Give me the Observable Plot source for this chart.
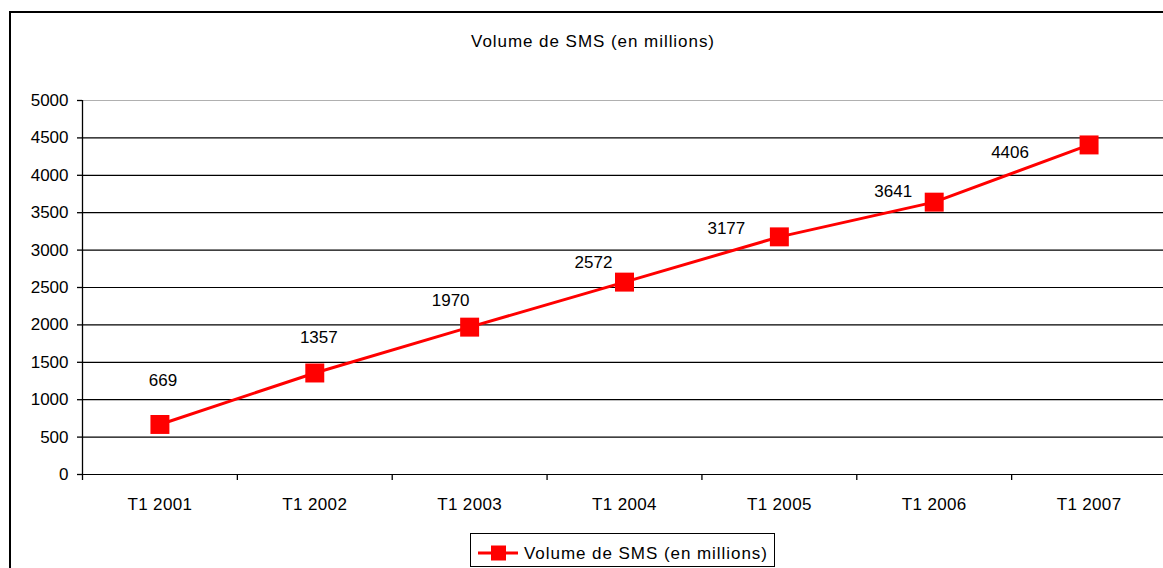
<!DOCTYPE html>
<html>
<head>
<meta charset="utf-8">
<script src="https://cdn.jsdelivr.net/npm/d3@7"></script>
<script src="https://cdn.jsdelivr.net/npm/@observablehq/plot@0.6"></script>
<style>
  html, body { margin: 0; padding: 0; background: #fff; overflow: hidden; }
  #wrap { position: relative; width: 1163px; height: 568px; overflow: hidden; font-family: "Liberation Sans", Arial, sans-serif; }
  #border { position: absolute; left: 9px; top: 11px; width: 1200px; height: 600px; border: 2px solid #000; box-sizing: border-box; }
  #chart { position: absolute; left: 0; top: 0; width: 1166px; height: 568px; }
  #chart svg { max-width: none !important; }
  #title { position: absolute; left: 0; width: 1186px; top: 32px; text-align: center; font-size: 17px; letter-spacing: 0.95px; color: #000; }
  #legend { position: absolute; left: 470px; top: 533px; width: 305px; height: 34px; border: 1px solid #000; box-sizing: border-box; background: #fff; }
  #legend svg { position: absolute; left: 0; top: 0; }
  #chart svg g[aria-label="x-axis tick label"] text { letter-spacing: 0.35px; }
</style>
</head>
<body>
<div id="wrap">
  <div id="border"></div>
  <div id="chart"></div>
  <div id="title">Volume de SMS (en millions)</div>
  <div id="legend"></div>
</div>
<script>
const seriesName = "Volume de SMS (en millions)";
const quarters = ["T1 2001", "T1 2002", "T1 2003", "T1 2004", "T1 2005", "T1 2006", "T1 2007"];
const volumes = [669, 1357, 1970, 2572, 3177, 3641, 4406];
const yTicks = [0, 500, 1000, 1500, 2000, 2500, 3000, 3500, 4000, 4500, 5000];
// label offsets (px) relative to each marker, as placed in the reference
const labelOffsets = [[3, -44], [4, -35], [-19, -27], [-31, -20], [-53, -8], [-41, -11], [-79, 8]];

const data = quarters.map((q, i) => ({quarter: q, value: volumes[i], i}));

const RED = "#ff0000";
const FONT = "Liberation Sans, Arial, sans-serif";

const frameLines = (index, scales, values, dims) => {
  const ns = "http://www.w3.org/2000/svg";
  const g = document.createElementNS(ns, "g");
  const x0 = dims.marginLeft, y0 = dims.height - dims.marginBottom;
  const mk = (x1, y1, x2, y2) => {
    const l = document.createElementNS(ns, "line");
    l.setAttribute("x1", x1); l.setAttribute("y1", y1);
    l.setAttribute("x2", x2); l.setAttribute("y2", y2);
    l.setAttribute("stroke", "#000"); l.setAttribute("stroke-width", 1.3);
    g.appendChild(l);
  };
  mk(x0 + 0.5, dims.marginTop, x0 + 0.5, y0);
  const bw = scales.x.bandwidth ? scales.x.bandwidth() : 0;
  quarters.forEach((q) => { const xs = scales.x(q); mk(xs + 0.5, y0, xs + 0.5, y0 + 6); });
  const last = scales.x(quarters[quarters.length - 1]) + bw;
  mk(last, y0, last, y0 + 6);
  return g;
};

const marks = [
  Plot.ruleY(yTicks.filter(d => d < 5000), {y: d => d, stroke: "#000", strokeWidth: 1.2}),
  Plot.ruleY([5000], {stroke: "#b0b0b0", strokeWidth: 1}),
  Plot.axisY({ticks: yTicks, tickSize: 5, tickPadding: 9, fontSize: 17, fontFamily: FONT, label: null, tickFormat: d => String(d), stroke: "#000", strokeWidth: 1.3}),
  Plot.axisX({tickSize: 0, tickPadding: 23, fontSize: 17, fontFamily: FONT, label: null}),
  frameLines,
  Plot.line(data, {x: "quarter", y: "value", stroke: RED, strokeWidth: 3}),
  Plot.dot(data, {x: "quarter", y: "value", symbol: "square", r: 10.7, fill: RED, stroke: "none"})
];
data.forEach((d, i) => {
  marks.push(Plot.text([d], {x: "quarter", y: "value", text: dd => String(dd.value), dx: labelOffsets[i][0], dy: labelOffsets[i][1], fontSize: 17, fontFamily: FONT, fill: "#000", style: {letterSpacing: "0.6px"}}));
});

const plot = Plot.plot({
  width: 1166,
  height: 568,
  marginTop: 100,
  marginBottom: 94,
  marginLeft: 82,
  marginRight: 0,
  style: {background: "transparent", fontFamily: FONT, fontSize: "17px", color: "#000"},
  x: {type: "band", domain: quarters, padding: 0, round: false},
  y: {domain: [0, 5000]},
  marks
});
document.getElementById("chart").appendChild(plot);

// legend
const lg = d3.select("#legend").append("svg").attr("width", 305).attr("height", 34);
lg.append("line").attr("x1", 7).attr("x2", 47).attr("y1", 19).attr("y2", 19).attr("stroke", RED).attr("stroke-width", 3);
lg.append("rect").attr("x", 20).attr("y", 11.5).attr("width", 15).attr("height", 15).attr("fill", RED);
lg.append("text").attr("x", 53).attr("y", 19).attr("dy", "0.35em").attr("font-size", 17).attr("letter-spacing", "0.95px").attr("font-family", FONT).attr("fill", "#000").text(seriesName);
</script>
</body>
</html>
